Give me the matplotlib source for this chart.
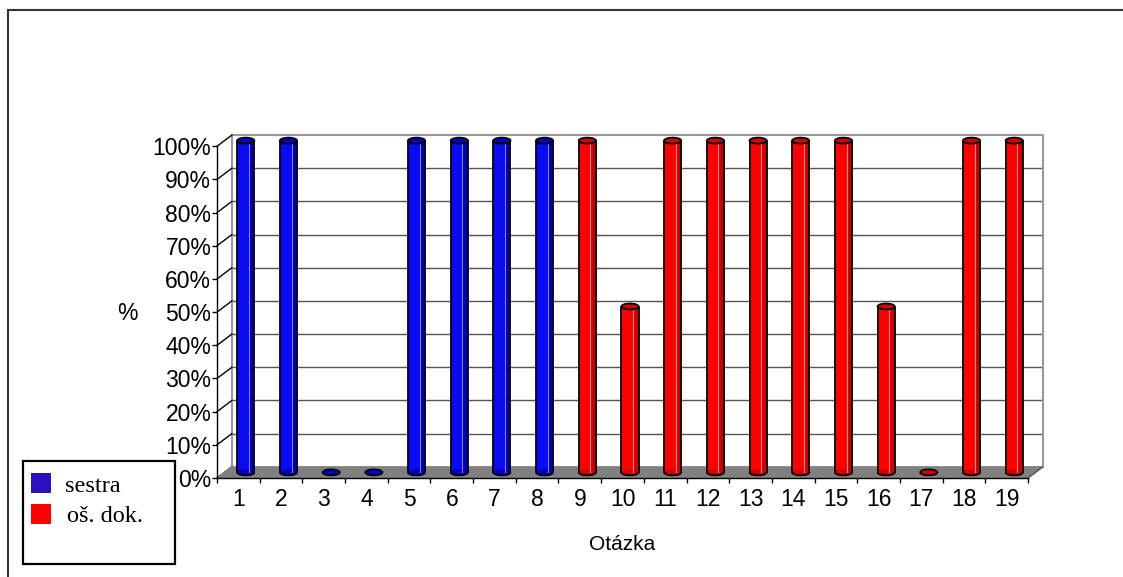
import numpy as np
import matplotlib
matplotlib.use("Agg")
from matplotlib import pyplot as plt
from matplotlib.patches import Rectangle, Ellipse, Arc, Polygon
from matplotlib.lines import Line2D

plt.rcParams['font.family'] = ['Liberation Sans', 'DejaVu Sans']

# odpovědi podle otázek
sestra_otazky = [1, 2, 3, 4, 5, 6, 7, 8]
sestra_hodnoty = [100, 100, 0, 0, 100, 100, 100, 100]
dok_otazky = [9, 10, 11, 12, 13, 14, 15, 16, 17, 18, 19]
dok_hodnoty = [100, 50, 100, 100, 100, 100, 100, 50, 0, 100, 100]
y_ticks = [0, 10, 20, 30, 40, 50, 60, 70, 80, 90, 100]
y_tick_labels = ["0%", "10%", "20%", "30%", "40%", "50%", "60%", "70%", "80%", "90%", "100%"]

N = 19
DX = 0.35   # hloubka 3D v kategoriích
DY = 3.4    # hloubka 3D v procentech
BAR_W = 0.4
ELL_H = 1.8

W, H = 1123, 577
fig = plt.figure(figsize=(W / 100, H / 100), dpi=100)


def fx(px):
    return px / W


def fy(py):
    return 1 - py / H


ax = fig.add_axes([fx(217), fy(478), (1043 - 217) / W, (478 - 135) / H])
ax.set_xlim(0, N + DX)
ax.set_ylim(0, 100 + DY)
ax.patch.set_visible(False)
for s in ['top', 'right']:
    ax.spines[s].set_visible(False)
ax.spines['left'].set_bounds(0, 100)
ax.spines['bottom'].set_bounds(0, N)
ax.spines['left'].set_linewidth(1.0)
ax.spines['bottom'].set_linewidth(1.0)

ax.set_yticks(y_ticks)
ax.set_yticklabels(y_tick_labels, fontsize=16.5)
ax.tick_params(axis='y', direction='out', length=3.6, width=1.0, pad=0.5)

ax.set_xticks(np.arange(0, N + 1))
ax.set_xticklabels([])
ax.set_xticks(np.arange(N) + 0.5, minor=True)
ax.set_xticklabels([str(i) for i in range(1, N + 1)], minor=True, fontsize=16.5)
ax.tick_params(axis='x', which='major', direction='out', length=3.6, width=1.0)
ax.tick_params(axis='x', which='minor', length=0, pad=7)

# zadní stěna a mřížka
wall = '#999999'
for v in y_ticks[1:-1]:
    ax.plot([DX, N + DX], [v + DY, v + DY], color='#555555', lw=1.0, zorder=1)
ax.plot([DX, DX, N + DX, N + DX], [DY, 100 + DY, 100 + DY, DY],
        color=wall, lw=1.5, zorder=1, clip_on=False)
# boční stěna - šikmé značky
for v in y_ticks:
    ax.plot([0, DX], [v, v + DY], color='black', lw=1.0, zorder=1, clip_on=False)

# podlaha
floor = Polygon([(0, 0), (N, 0), (N + DX, DY), (DX, DY)], closed=True,
                facecolor='#808080', edgecolor='#808080', lw=0.8, zorder=2)
ax.add_patch(floor)
ax.plot([N, N + DX], [0, DY], color='#555555', lw=1.0, zorder=2)


def valec(x, v, main, dark, light, top):
    cx = x - 0.5 + DX / 2
    base = DY / 2
    left = cx - BAR_W / 2
    if v > 0:
        ax.add_patch(Rectangle((left, base), BAR_W, v, facecolor=main,
                               edgecolor='none', zorder=3))
        ax.add_patch(Rectangle((cx + BAR_W * 0.18, base), BAR_W * 0.32, v,
                               facecolor=dark, edgecolor='none', zorder=3))
        ax.add_patch(Ellipse((cx, base), BAR_W, ELL_H, facecolor=dark,
                             edgecolor='none', zorder=3))
        ax.plot([cx + BAR_W * 0.18] * 2, [base, base + v], color=light,
                lw=0.8, zorder=4)
        ax.add_patch(Arc((cx, base), BAR_W, ELL_H, theta1=180, theta2=360,
                         color='black', lw=1.3, zorder=5))
        ax.plot([left, left], [base, base + v], color='black', lw=1.3, zorder=5)
        ax.plot([left + BAR_W] * 2, [base, base + v], color='black', lw=1.3, zorder=5)
    ax.add_patch(Ellipse((cx, base + v), BAR_W, ELL_H, facecolor=top,
                         edgecolor='black', lw=1.3, zorder=6))


for q, v in zip(sestra_otazky, sestra_hodnoty):
    valec(q, v, '#0A0AF5', '#0000B8', '#7F7FFF', '#0000C8')
for q, v in zip(dok_otazky, dok_hodnoty):
    valec(q, v, '#FF0000', '#D00000', '#FF8A8A', '#D80000')

# popisky os
fig.text(fx(127), fy(313), "%", fontsize=16.5, ha='center', va='center')
fig.text(fx(622), fy(545), "Otázka", fontsize=15, ha='center', va='center')

# legenda
fig.add_artist(Rectangle((fx(23), fy(564)), (175 - 23) / W, (564 - 461) / H,
                         transform=fig.transFigure, facecolor='white',
                         edgecolor='black', lw=1.6))
fig.add_artist(Rectangle((fx(31), fy(493)), 20 / W, 20 / H,
                         transform=fig.transFigure, facecolor='#2A10C0',
                         edgecolor='none'))
fig.add_artist(Rectangle((fx(31), fy(524)), 20 / W, 20 / H,
                         transform=fig.transFigure, facecolor='#FF0000',
                         edgecolor='none'))
fig.text(fx(65), fy(486), "sestra", fontsize=17.5, family='Liberation Serif',
         ha='left', va='center')
fig.text(fx(67), fy(517), "oš. dok.", fontsize=17.5, family='Liberation Serif',
         ha='left', va='center')

# vnější rámeček
fig.add_artist(Line2D([fx(8), 1], [fy(10), fy(10)], transform=fig.transFigure,
                      color='#333333', lw=1.5))
fig.add_artist(Line2D([fx(8), fx(8)], [fy(10), 0], transform=fig.transFigure,
                      color='#333333', lw=1.5))

fig.savefig("out.png", dpi=100)
